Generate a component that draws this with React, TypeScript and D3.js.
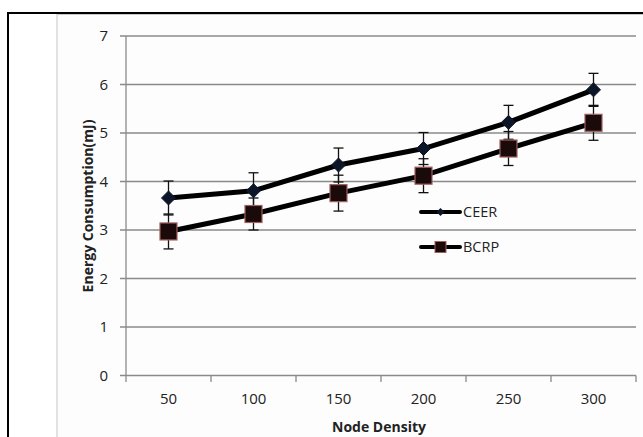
import React from 'react';
import * as d3 from 'd3';

const categories = ['50', '100', '150', '200', '250', '300'];
const ceer = [3.66, 3.81, 4.34, 4.68, 5.22, 5.89];
const ceerErr = [0.35, 0.37, 0.35, 0.33, 0.35, 0.34];
const bcrp = [2.97, 3.33, 3.76, 4.12, 4.68, 5.21];
const bcrpErr = [0.36, 0.33, 0.37, 0.35, 0.35, 0.36];
const yTicks = [0, 1, 2, 3, 4, 5, 6, 7];

const W = 643;
const H = 437;
const FONT = '"Open Sans", Lato, sans-serif';

const App = () => {
  const xScale = d3.scaleBand().domain(categories).range([126, 636]).padding(0);
  const yScale = d3.scaleLinear().domain([0, 7]).range([375.5, 36]);
  const cx = (i: number) => (xScale(categories[i]) as number) + xScale.bandwidth() / 2;

  const line = d3.line<number>()
    .x((d, i) => cx(i))
    .y(d => yScale(d));

  const diamond = (x: number, y: number, r: number) =>
    `M${x},${y - r}L${x + r},${y}L${x},${y + r}L${x - r},${y}Z`;

  const errBar = (vals: number[], errs: number[], key: string) =>
    vals.map((v, i) => {
      const x = cx(i);
      const top = yScale(v + errs[i]);
      const bot = yScale(v - errs[i]);
      return (
        <g key={key + i} stroke='#111' strokeWidth={1.3}>
          <line x1={x} x2={x} y1={top} y2={bot} />
          <line x1={x - 5} x2={x + 5} y1={top} y2={top} />
          <line x1={x - 5} x2={x + 5} y1={bot} y2={bot} />
        </g>
      );
    });

  const ticksX = categories.map(c => xScale(c) as number).concat([636]);

  return (
    <div style={{ position: 'absolute', left: 0, top: 0 }}>
      <svg width={W} height={H} style={{ display: 'block', background: '#fff' }}>
        {/* frames */}
        <rect x={57} y={14.5} width={700} height={500} fill='#fdfdfd' stroke='#c8c8c8' strokeWidth={1} />
        <line x1={8} x2={W} y1={13} y2={13} stroke='#000' strokeWidth={2} />
        <line x1={8} x2={8} y1={12} y2={H} stroke='#000' strokeWidth={2} />

        {/* gridlines */}
        {yTicks.map(t => (
          <g key={'g' + t}>
            <line x1={120} x2={636} y1={yScale(t)} y2={yScale(t)} stroke='#8a8a8a' strokeWidth={1.3} />
            <text x={108} y={yScale(t)} dy='0.35em' textAnchor='end' fontFamily={FONT} fontSize={15} fill='#222'>{t}</text>
          </g>
        ))}
        <line x1={126} x2={126} y1={36} y2={375.5} stroke='#8a8a8a' strokeWidth={1.3} />
        {ticksX.map((x, i) => (
          <line key={'t' + i} x1={x} x2={x} y1={375.5} y2={382} stroke='#8a8a8a' strokeWidth={1.3} />
        ))}
        {categories.map((c, i) => (
          <text key={'x' + c} x={cx(i)} y={399} dy='0.35em' textAnchor='middle' fontFamily={FONT} fontSize={15} fill='#222'>{c}</text>
        ))}

        {/* axis titles */}
        <text x={379} y={427} dy='0.35em' textAnchor='middle' fontFamily={FONT} fontSize={14} fontWeight='bold' fill='#222'>Node Density</text>
        <text transform='translate(88,206) rotate(-90)' textAnchor='middle' dy='0.35em' fontFamily={FONT} fontSize={14} fontWeight='bold' fill='#222'>Energy Consumption(mJ)</text>

        {/* error bars */}
        {errBar(ceer, ceerErr, 'ce')}
        {errBar(bcrp, bcrpErr, 'bc')}

        {/* series lines */}
        <path d={line(ceer) as string} fill='none' stroke='#000' strokeWidth={5} />
        <path d={line(bcrp) as string} fill='none' stroke='#000' strokeWidth={5} />

        {/* markers */}
        {ceer.map((v, i) => (
          <path key={'cm' + i} d={diamond(cx(i), yScale(v), 7)} fill='#0d1628' stroke='#0d1628' strokeWidth={1} />
        ))}
        {bcrp.map((v, i) => (
          <rect key={'bm' + i} x={cx(i) - 8.5} y={yScale(v) - 8.5} width={17} height={17} fill='#1a0a0a' stroke='#a06060' strokeWidth={1.2} />
        ))}

        {/* legend */}
        <g>
          <line x1={421} x2={460} y1={212} y2={212} stroke='#000' strokeWidth={4} strokeLinecap='round' />
          <path d={diamond(440.5, 212, 4)} fill='#0d1628' />
          <text x={463} y={212} dy='0.35em' fontFamily={FONT} fontSize={14.5} fill='#222'>CEER</text>
          <line x1={421} x2={460} y1={247} y2={247} stroke='#000' strokeWidth={4} strokeLinecap='round' />
          <rect x={435} y={241.5} width={11} height={11} fill='#1a0a0a' stroke='#a06060' strokeWidth={1} />
          <text x={463} y={247} dy='0.35em' fontFamily={FONT} fontSize={14.5} fill='#222'>BCRP</text>
        </g>
      </svg>
    </div>
  );
};

export default App;
